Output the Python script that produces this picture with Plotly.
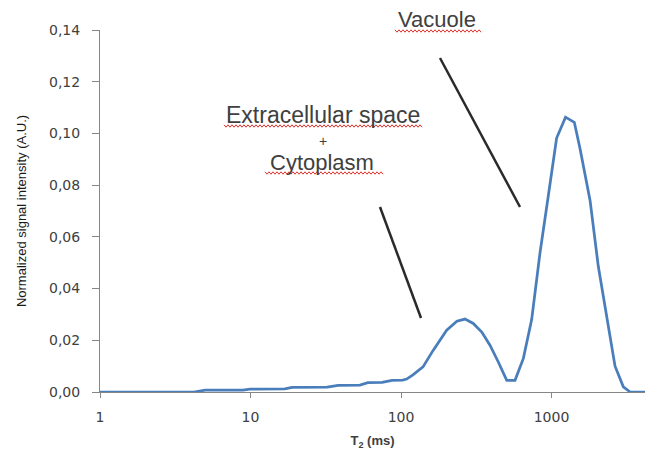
import plotly.graph_objects as go

# ---- data ----
t2_ms = [1, 4.2, 5.0, 8.9, 9.9, 16.9, 18.9, 32.3, 38.2, 53.3, 60.2, 74.9, 87.1, 102.6,
         109, 120, 140, 163, 201, 235, 266, 302, 344, 390, 443, 504, 572, 650, 738,
         839, 953, 1081, 1239, 1417, 1546, 1803, 2046, 2327, 2642, 3000, 3330, 4500]
intensity = [0, 0, 0.0007, 0.0007, 0.0011, 0.0012, 0.0018, 0.0019, 0.0026, 0.0027,
             0.0036, 0.0037, 0.0045, 0.0046, 0.0050, 0.0066, 0.0097, 0.0160, 0.0239,
             0.0274, 0.0282, 0.0265, 0.0232, 0.0181, 0.0116, 0.0045, 0.0045, 0.0130,
             0.0280, 0.0540, 0.0761, 0.0982, 0.1063, 0.1043, 0.0942, 0.0741, 0.0485,
             0.0290, 0.0100, 0.0020, 0, 0]

x_tick_vals = [1, 10, 100, 1000]
x_tick_text = ["1", "10", "100", "1000"]
y_tick_vals = [0, 0.02, 0.04, 0.06, 0.08, 0.10, 0.12, 0.14]
y_tick_text = ["0,00", "0,02", "0,04", "0,06", "0,08", "0,10", "0,12", "0,14"]

# ---- layout geometry (pixels) ----
W, H = 645, 450
ML, MR, MT, MB = 100, 0, 30, 58
PW, PH = W - ML - MR, H - MT - MB


def px(x):
    return (x - ML) / PW


def py(y):
    return (H - MB - y) / PH


fig = go.Figure()
fig.add_trace(go.Scatter(
    x=t2_ms, y=intensity, mode="lines",
    line=dict(color="#4a7ebb", width=2.75),
    showlegend=False, hoverinfo="skip",
))

axis_col = "#868686"
txt_col = "#404040"
tick_font = dict(family="DejaVu Sans", size=14, color=txt_col)

fig.update_layout(
    width=W, height=H,
    margin=dict(l=ML, r=MR, t=MT, b=MB, pad=0),
    paper_bgcolor="white", plot_bgcolor="white",
    font=dict(family="Liberation Sans, Arial", color=txt_col),
    xaxis=dict(
        type="log", range=[0, 3.621],
        tickvals=x_tick_vals, ticktext=x_tick_text,
        showgrid=False, zeroline=False,
        showline=True, linecolor=axis_col, linewidth=1,
        ticks="outside", ticklen=5, tickcolor=axis_col, tickwidth=1,
        tickfont=tick_font, ticklabelstandoff=7,
        title=dict(text="<b>T<sub>2</sub> (ms)</b>", font=dict(size=13, color=txt_col), standoff=12),
    ),
    yaxis=dict(
        range=[0, 0.14],
        tickvals=y_tick_vals, ticktext=y_tick_text,
        showgrid=False, zeroline=False,
        showline=True, linecolor=axis_col, linewidth=1,
        ticks="outside", ticklen=7, tickcolor=axis_col, tickwidth=1,
        tickfont=tick_font, ticklabelstandoff=9,
        title=dict(text="Normalized signal intensity (A.U.)", font=dict(size=13, color="#1a1a1a"), standoff=19),
    ),
)

# ---- text annotations ----
labels = [
    ("Vacuole", 436.5, 20, 22),
    ("Extracellular space", 322.5, 115, 23),
    ("+", 322.5, 140.5, 14),
    ("Cytoplasm", 321.5, 162.5, 22),
]
for text, x, y, size in labels:
    fig.add_annotation(
        text=text, x=px(x), y=py(y), xref="paper", yref="paper",
        xanchor="center", yanchor="middle", showarrow=False,
        font=dict(family="Liberation Sans, Arial", size=size, color=txt_col),
    )

# ---- wavy red spell-check underlines ----
def wavy(x0, x1, y):
    pts = []
    x = x0
    k = 0
    while x <= x1:
        yy = y + (1.2 if k % 2 else -1.2)
        pts.append(f"{px(x):.5f},{py(yy):.5f}")
        x += 2
        k += 1
    return "M " + " L ".join(pts)

for x0, x1, y in [(395, 482, 31), (224, 422, 126), (265, 383, 173)]:
    fig.add_shape(type="path", path=wavy(x0, x1, y), xref="paper", yref="paper",
                  line=dict(color="#e0302a", width=1))

# ---- pointer lines ----
for (x0, y0, x1, y1) in [(440, 58, 520, 207), (380, 207, 421, 318)]:
    fig.add_shape(type="line", x0=px(x0), y0=py(y0), x1=px(x1), y1=py(y1),
                  xref="paper", yref="paper",
                  line=dict(color="#2a2a2a", width=2.5))

fig.write_html("out.html", config={"displayModeBar": False},
               post_script="document.body.style.margin='0';document.body.style.padding='0';")
